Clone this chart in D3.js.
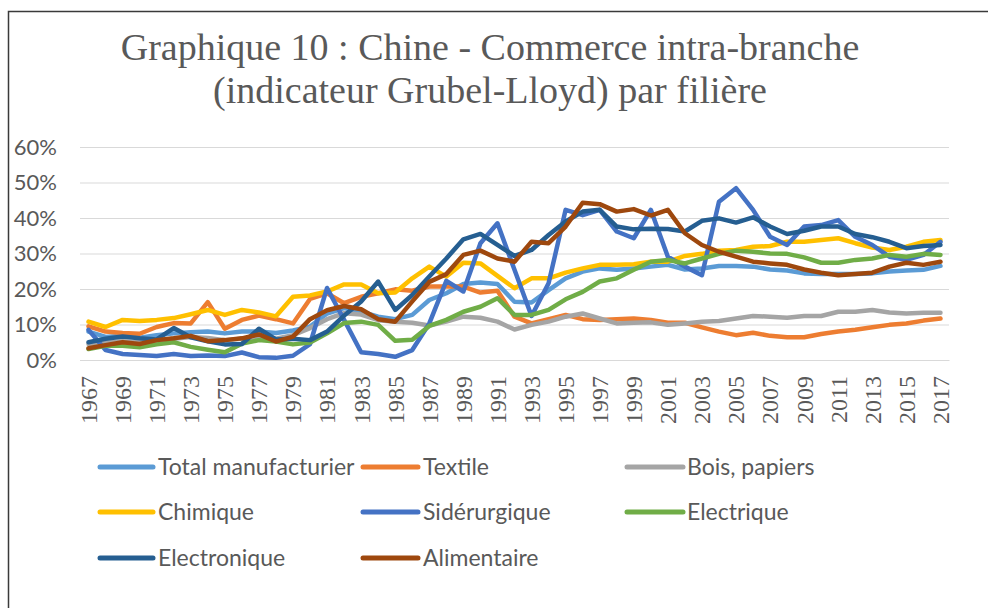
<!DOCTYPE html>
<html>
<head>
<meta charset="utf-8">
<script src="https://cdn.jsdelivr.net/npm/d3@7"></script>
<style>
  body { margin: 0; background: #fff; }
  #chart { width: 988px; height: 608px; }
</style>
</head>
<body>
<div id="chart"></div>
<script>
// années 1967 -> 2017
const years = d3.range(1967, 2018);
const yTicks = [0, 10, 20, 30, 40, 50, 60];

// indicateur Grubel-Lloyd en %
const total = [8.0, 6.5, 6.8, 6.3, 7.0, 7.5, 7.8, 8.0, 7.5, 8.0, 8.0, 7.6, 8.3, 9.4, 13.1, 14.6, 13.6, 12.2, 11.5, 12.7,
  16.9, 18.8, 21.4, 21.8, 21.4, 16.4, 16.2, 19.7, 23.0, 24.9, 25.8, 25.4, 25.8, 26.3, 26.8, 25.5, 25.8, 26.5, 26.5, 26.3,
  25.5, 25.2, 24.4, 24.2, 24.2, 24.2, 24.4, 24.9, 25.2, 25.4, 26.5];
const textile = [9.5, 8.0, 7.6, 7.4, 9.3, 10.4, 10.3, 16.3, 8.8, 11.3, 12.5, 11.5, 10.3, 17.2, 18.8, 16.0, 17.8, 18.8, 19.9, 19.5,
  20.7, 20.7, 20.7, 19.0, 19.5, 12.2, 10.3, 11.5, 12.7, 11.5, 11.3, 11.5, 11.7, 11.3, 10.5, 10.5, 9.2, 8.0, 7.0, 7.7,
  6.8, 6.4, 6.4, 7.3, 8.0, 8.5, 9.2, 9.9, 10.3, 11.1, 11.7];
const bois = [4.5, 5.0, 5.3, 5.0, 5.5, 6.0, 6.5, 6.2, 5.6, 6.0, 6.5, 6.0, 7.0, 9.0, 11.5, 13.2, 12.8, 11.2, 10.8, 10.5,
  9.7, 10.8, 12.2, 11.9, 10.8, 8.6, 9.9, 10.8, 12.2, 13.1, 11.7, 10.3, 10.5, 10.6, 9.9, 10.3, 10.8, 11.0, 11.7, 12.4,
  12.2, 11.9, 12.4, 12.4, 13.6, 13.6, 14.1, 13.4, 13.1, 13.3, 13.3];
const chimique = [10.8, 9.3, 11.3, 11.0, 11.3, 11.8, 12.9, 14.1, 12.7, 14.1, 13.4, 12.3, 17.8, 18.2, 19.3, 21.3, 21.3, 18.8, 19.0, 23.0,
  26.3, 23.5, 27.4, 27.2, 23.7, 20.2, 23.0, 23.0, 24.6, 25.8, 26.8, 26.8, 27.0, 27.7, 27.7, 29.3, 29.9, 30.8, 31.0, 31.9,
  32.1, 33.3, 33.3, 33.8, 34.3, 32.9, 31.7, 31.0, 31.9, 33.3, 33.8];
const siderurgique = [8.5, 2.8, 1.7, 1.4, 1.1, 1.7, 1.1, 1.3, 1.1, 2.1, 0.8, 0.6, 1.2, 4.5, 20.3, 11.3, 2.2, 1.7, 0.9, 2.8,
  10.3, 22.3, 19.3, 32.9, 38.5, 25.4, 12.4, 21.6, 42.3, 40.8, 42.3, 36.2, 34.3, 42.3, 29.1, 26.3, 23.9, 44.6, 48.4, 42.3,
  34.7, 32.4, 37.6, 38.0, 39.4, 34.7, 32.4, 29.1, 28.2, 29.6, 33.3];
const electrique = [3.1, 4.0, 4.0, 3.6, 4.4, 5.0, 3.7, 2.9, 2.2, 4.6, 5.6, 5.2, 4.4, 4.9, 7.5, 10.4, 10.8, 9.9, 5.4, 5.7,
  9.6, 11.3, 13.6, 15.0, 17.4, 12.7, 12.7, 14.1, 17.1, 19.2, 22.1, 23.0, 25.4, 27.7, 28.2, 27.2, 28.6, 29.9, 30.8, 30.5,
  30.0, 29.9, 28.9, 27.4, 27.4, 28.2, 28.6, 29.6, 29.1, 29.9, 29.6];
const electronique = [5.0, 6.0, 6.6, 6.1, 5.8, 9.0, 6.4, 5.3, 4.4, 4.5, 8.8, 5.8, 6.0, 5.6, 8.0, 12.5, 16.5, 22.1, 14.1, 18.3,
  23.5, 28.6, 34.0, 35.5, 32.4, 29.3, 31.0, 35.2, 39.0, 41.8, 42.3, 37.6, 36.8, 37.0, 36.9, 36.2, 39.2, 39.9, 38.7, 40.2,
  37.6, 35.5, 36.4, 37.6, 37.6, 35.5, 34.6, 33.3, 31.5, 32.1, 32.4];
const alimentaire = [3.3, 4.2, 5.0, 4.5, 5.6, 6.1, 6.8, 5.3, 5.6, 6.1, 7.2, 5.2, 6.6, 11.5, 14.0, 15.2, 14.3, 11.5, 10.8, 16.5,
  22.0, 24.2, 29.6, 30.8, 28.6, 27.7, 33.3, 32.9, 37.6, 44.3, 43.9, 41.8, 42.5, 40.7, 42.3, 35.7, 32.4, 30.5, 29.1, 27.7,
  27.2, 26.8, 25.5, 24.6, 23.9, 24.2, 24.6, 26.3, 27.4, 26.8, 27.7];

const seriesNames = ["Total manufacturier", "Textile", "Bois, papiers", "Chimique", "Sidérurgique", "Electrique", "Electronique", "Alimentaire"];
const seriesValues = [total, textile, bois, chimique, siderurgique, electrique, electronique, alimentaire];
const colors = ["#5B9BD5", "#ED7D31", "#A5A5A5", "#FFC000", "#4472C4", "#70AD47", "#255E91", "#9E480E"];

const width = 988, height = 608;
const plotLeft = 80, plotRight = 949, plotTop = 147, plotBottom = 360;
const textColor = "#595959";

const svg = d3.select("#chart").append("svg")
    .attr("width", width)
    .attr("height", height);

svg.append("rect")
    .attr("width", width).attr("height", height)
    .attr("fill", "#fff");

// cadre (seulement haut et gauche visibles)
svg.append("path")
    .attr("d", "M8.5," + height + "V11.5H" + width)
    .attr("fill", "none")
    .attr("stroke", "#3a3a3a")
    .attr("stroke-width", 1.5);

// titre
const title = svg.append("text")
    .attr("text-anchor", "middle")
    .attr("font-family", "'Liberation Serif', 'Times New Roman', serif")
    .attr("font-size", 38)
    .attr("fill", textColor);
title.append("tspan").attr("x", 490).attr("y", 60).text("Graphique 10 : Chine - Commerce intra-branche");
title.append("tspan").attr("x", 490).attr("y", 103).text("(indicateur Grubel-Lloyd) par filière");

const x = d3.scaleBand().domain(years).range([plotLeft, plotRight]);
const y = d3.scaleLinear().domain([0, 60]).range([plotBottom, plotTop]);
const cx = d => x(d) + x.bandwidth() / 2;

// axe Y + grille
const yAxis = svg.append("g")
    .attr("transform", `translate(${plotLeft},0)`)
    .call(d3.axisLeft(y).tickValues(yTicks).tickSize(-(plotRight - plotLeft)).tickPadding(23).tickFormat(d => d + "%"));
yAxis.select(".domain").remove();
yAxis.selectAll("line").attr("stroke", "#d9d9d9").attr("stroke-width", 1);
yAxis.selectAll("text")
    .attr("fill", textColor)
    .attr("font-family", "Lato, 'Open Sans', sans-serif")
    .attr("font-size", 22);

// axe X
const xAxis = svg.append("g")
    .attr("transform", `translate(0,${plotBottom})`)
    .call(d3.axisBottom(x).tickValues(years.filter(d => (d - 1967) % 2 === 0)).tickSize(0));
xAxis.select(".domain").attr("stroke", "#d9d9d9");
xAxis.selectAll("text")
    .attr("fill", textColor)
    .attr("font-family", "'Liberation Serif', 'Times New Roman', serif")
    .attr("font-size", 24)
    .attr("text-anchor", "end")
    .attr("transform", "rotate(-90)")
    .attr("x", -16)
    .attr("y", 0)
    .attr("dy", "0.35em");

// courbes
const line = d3.line()
    .x((d, i) => cx(years[i]))
    .y(d => y(d));

svg.append("g").selectAll("path")
    .data(seriesValues)
    .enter()
    .append("path")
    .attr("d", d => line(d))
    .attr("fill", "none")
    .attr("stroke", (d, i) => colors[i])
    .attr("stroke-width", 4.5)
    .attr("stroke-linejoin", "round")
    .attr("stroke-linecap", "round");

// légende
const legCols = [[100, 153, 158], [363, 418, 423], [627, 683, 687]];
const legRows = [467, 512, 558];
const legOrder = [0, 1, 2, 3, 4, 5, 6, 7];

const leg = svg.append("g").selectAll("g")
    .data(legOrder)
    .enter()
    .append("g");

leg.append("line")
    .attr("x1", i => legCols[i % 3][0])
    .attr("x2", i => legCols[i % 3][1])
    .attr("y1", i => legRows[Math.floor(i / 3)])
    .attr("y2", i => legRows[Math.floor(i / 3)])
    .attr("stroke", i => colors[i])
    .attr("stroke-width", 5)
    .attr("stroke-linecap", "round");

leg.append("text")
    .attr("x", i => legCols[i % 3][2])
    .attr("y", i => legRows[Math.floor(i / 3)])
    .attr("dy", "0.36em")
    .attr("fill", textColor)
    .attr("font-family", "Lato, 'Open Sans', sans-serif")
    .attr("font-size", 23)
    .text(i => seriesNames[i]);
</script>
</body>
</html>
